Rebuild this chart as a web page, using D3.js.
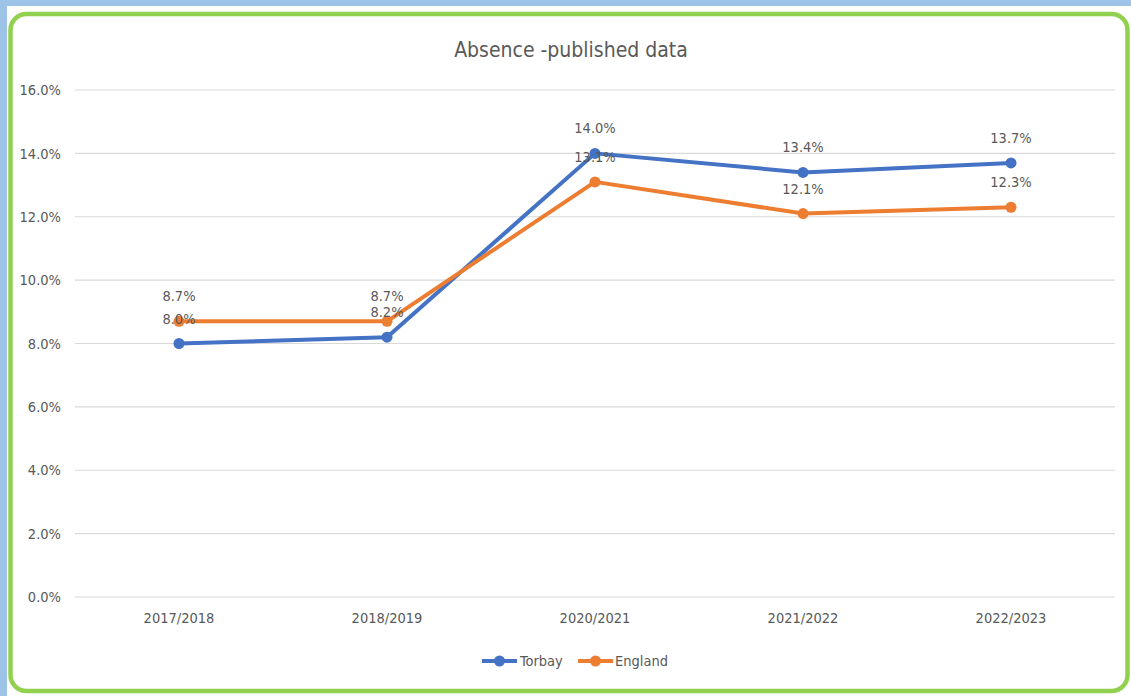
<!DOCTYPE html>
<html>
<head>
<meta charset="utf-8">
<script src="https://cdn.jsdelivr.net/npm/d3@7"></script>
<style>
  html, body { margin: 0; padding: 0; background: #fff; }
  svg { display: block; font-family: "Liberation Sans Narrow", "DejaVu Sans Condensed", "Roboto", sans-serif; }
</style>
</head>
<body>
<div id="canvas"></div>
<script>
const years = ['2017/2018', '2018/2019', '2020/2021', '2021/2022', '2022/2023'];
const torbay = [8.0, 8.2, 14.0, 13.4, 13.7];
const england = [8.7, 8.7, 13.1, 12.1, 12.3];
const yTicks = [0, 2, 4, 6, 8, 10, 12, 14, 16];

const W = 1131, H = 696;
const textColor = '#595959';
const series = [
  { name: 'Torbay', values: torbay, color: '#4472c4' },
  { name: 'England', values: england, color: '#ed7d31' }
];

const svg = d3.select('#canvas').append('svg')
  .attr('width', W)
  .attr('height', H);

// page background bands + card
svg.append('rect').attr('x', 0).attr('y', 0).attr('width', W).attr('height', 6).attr('fill', '#9dc3e6');
svg.append('rect').attr('x', 0).attr('y', 0).attr('width', 7).attr('height', H).attr('fill', '#9dc3e6');
svg.append('rect')
  .attr('x', 10.5).attr('y', 14)
  .attr('width', 1117).attr('height', 677)
  .attr('rx', 16)
  .attr('fill', '#fff')
  .attr('stroke', '#92d050')
  .attr('stroke-width', 4.5);

svg.append('text')
  .text('Absence -published data')
  .attr('x', 571).attr('y', 57)
  .attr('text-anchor', 'middle')
  .attr('font-size', '21px')
  .attr('fill', textColor);

const x = d3.scaleBand().domain(years).range([75, 1115]);
const y = d3.scaleLinear().domain([0, 16]).range([597, 90]);

// gridlines
svg.append('g')
  .selectAll('line')
  .data(yTicks)
  .join('line')
  .attr('x1', 75).attr('x2', 1115)
  .attr('y1', d => y(d)).attr('y2', d => y(d))
  .attr('stroke', '#d9d9d9')
  .attr('stroke-width', 1.2);

const yAxis = d3.axisLeft(y)
  .tickValues(yTicks)
  .tickFormat(d => d.toFixed(1) + '%')
  .tickSize(0)
  .tickPadding(13);

svg.append('g')
  .attr('transform', 'translate(74,0)')
  .call(yAxis)
  .attr('font-family', null)
  .attr('font-size', null)
  .call(g => g.select('.domain').remove())
  .selectAll('text')
  .attr('font-size', '14.5px')
  .attr('fill', textColor);

const xAxis = d3.axisBottom(x).tickSize(0).tickPadding(16);
svg.append('g')
  .attr('transform', 'translate(0,597)')
  .call(xAxis)
  .attr('font-family', null)
  .attr('font-size', null)
  .call(g => g.select('.domain').remove())
  .selectAll('text')
  .attr('font-size', '14.5px')
  .attr('fill', textColor);

const cx = i => x(years[i]) + x.bandwidth() / 2;
const line = d3.line().x((d, i) => cx(i)).y(d => y(d));

series.forEach(s => {
  const g = svg.append('g');
  g.append('path')
    .attr('d', line(s.values))
    .attr('fill', 'none')
    .attr('stroke', s.color)
    .attr('stroke-width', 4)
    .attr('stroke-linejoin', 'round')
    .attr('stroke-linecap', 'round');
  g.selectAll('circle')
    .data(s.values)
    .join('circle')
    .attr('cx', (d, i) => cx(i))
    .attr('cy', d => y(d))
    .attr('r', 5.5)
    .attr('fill', s.color);
});

// data labels on top
series.forEach(s => {
  svg.append('g')
    .selectAll('text')
    .data(s.values)
    .join('text')
    .text(d => d.toFixed(1) + '%')
    .attr('x', (d, i) => cx(i))
    .attr('y', d => y(d) - 20)
    .attr('text-anchor', 'middle')
    .attr('font-size', '14.5px')
    .attr('fill', textColor);
});

// legend
const legend = svg.append('g').attr('transform', 'translate(482,661)');
const legendItems = [
  { s: series[0], x0: 0, tx: 38 },
  { s: series[1], x0: 96, tx: 133 }
];
legendItems.forEach(it => {
  legend.append('line')
    .attr('x1', it.x0).attr('x2', it.x0 + 35)
    .attr('y1', 0).attr('y2', 0)
    .attr('stroke', it.s.color)
    .attr('stroke-width', 4);
  legend.append('circle')
    .attr('cx', it.x0 + 17.5).attr('cy', 0).attr('r', 5.5)
    .attr('fill', it.s.color);
  legend.append('text')
    .text(it.s.name)
    .attr('x', it.tx).attr('y', 5)
    .attr('font-size', '14.5px')
    .attr('fill', textColor);
});
</script>
</body>
</html>
